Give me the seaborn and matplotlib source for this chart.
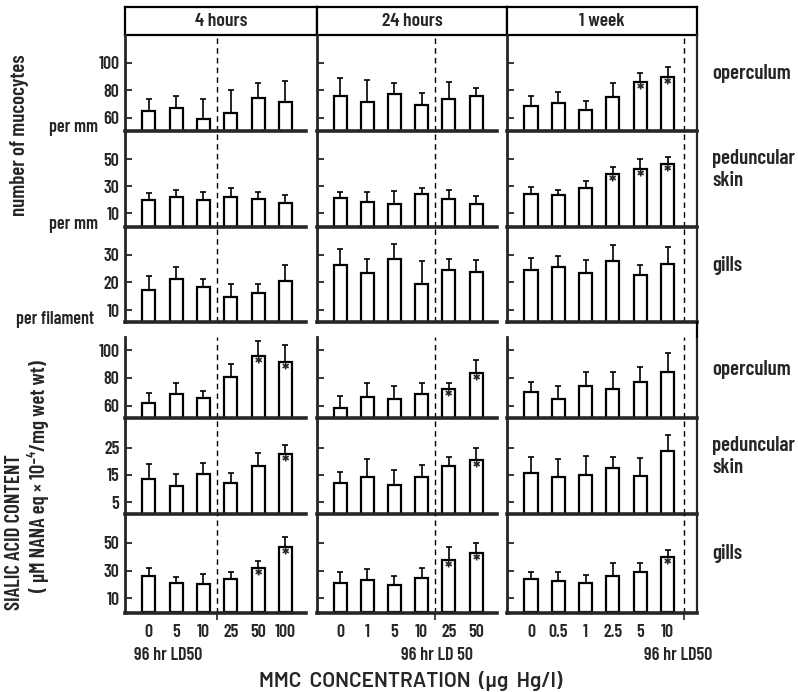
import numpy as np
import matplotlib
matplotlib.use("Agg")
from matplotlib import pyplot as plt
from matplotlib.lines import Line2D
import seaborn as sns

# ---------------- DATA ---------------------------------------
times = ["4 hours", "24 hours", "1 week"]
conc_labels = [["0", "5", "10", "25", "50", "100"],
               ["0", "1", "5", "10", "25", "50"],
               ["0", "0.5", "1", "2.5", "5", "10"]]
ld50_pos = [2.5, 3.5, 5.6]

# mucocytes, operculum (per mm)
muc_oper_mean = [[64.8, 66.8, 59.3, 63.6, 74.5, 71.4],
                 [75.8, 71.4, 77.5, 69.2, 73.8, 75.8],
                 [68.5, 70.9, 66.0, 75.3, 85.9, 89.6]]
muc_oper_sd = [[9.2, 9.4, 14.5, 16.3, 11.0, 15.3],
               [13.3, 15.8, 8.0, 8.5, 12.4, 6.0],
               [7.3, 8.0, 6.1, 10.2, 6.3, 7.2]]
muc_oper_star = [[], [], [4, 5]]

# mucocytes, peduncular skin (per mm)
muc_ped_mean = [[20.3, 22.3, 20.3, 22.3, 20.6, 17.4],
                [21.5, 18.6, 16.9, 24.7, 20.6, 16.9],
                [24.7, 23.5, 28.9, 39.4, 43.1, 46.8]]
muc_ped_sd = [[4.9, 4.9, 5.7, 6.8, 5.4, 6.1],
              [4.5, 7.4, 9.5, 4.2, 6.6, 5.9],
              [4.9, 4.2, 4.9, 5.0, 6.9, 4.9]]
muc_ped_star = [[], [], [3, 4, 5]]

# mucocytes, gills (per filament)
muc_gill_mean = [[17.2, 21.4, 18.4, 14.8, 16.0, 20.4],
                 [26.2, 23.4, 28.6, 19.6, 24.6, 23.8],
                 [24.4, 25.6, 23.4, 27.6, 22.8, 26.8]]
muc_gill_sd = [[5.0, 4.2, 3.0, 4.8, 3.3, 5.8],
               [6.0, 5.2, 5.4, 8.0, 4.0, 4.4],
               [4.4, 3.8, 4.8, 5.8, 3.6, 6.0]]
muc_gill_star = [[], [], []]

# sialic acid, operculum
sia_oper_mean = [[61.9, 68.6, 65.5, 81.0, 96.0, 91.7],
                 [58.3, 66.7, 64.8, 68.3, 72.1, 83.3],
                 [69.8, 64.8, 74.3, 72.4, 77.4, 84.0]]
sia_oper_sd = [[7.6, 7.6, 5.2, 8.8, 10.4, 11.9],
               [8.8, 9.5, 9.5, 7.9, 4.1, 9.6],
               [7.1, 9.7, 10.2, 11.6, 10.7, 14.1]]
sia_oper_star = [[4, 5], [4, 5], []]

# sialic acid, peduncular skin
sia_ped_mean = [[13.3, 11.0, 15.2, 11.9, 18.4, 22.7],
                [11.9, 14.3, 11.3, 14.1, 18.4, 20.5],
                [15.6, 14.3, 14.9, 17.6, 14.6, 23.8]]
sia_ped_sd = [[5.7, 4.3, 4.0, 3.9, 4.5, 3.3],
              [4.3, 6.4, 5.5, 4.5, 3.3, 4.3],
              [6.1, 6.4, 7.0, 3.8, 6.5, 5.9]]
sia_ped_star = [[5], [5], []]

# sialic acid, gills
sia_gill_mean = [[26.0, 21.3, 20.1, 23.7, 31.6, 47.1],
                 [20.8, 23.2, 19.6, 24.4, 37.5, 42.8],
                 [23.9, 22.7, 21.3, 26.3, 28.7, 39.5]]
sia_gill_sd = [[5.6, 4.3, 7.1, 5.5, 5.5, 7.2],
               [8.4, 7.9, 6.4, 7.2, 9.6, 6.7],
               [4.8, 6.0, 5.5, 9.3, 6.9, 5.2]]
sia_gill_star = [[4, 5], [4, 5], [5]]

rows = [
    (muc_oper_mean, muc_oper_sd, muc_oper_star, (50.5, 120), [60, 80, 100], "operculum"),
    (muc_ped_mean, muc_ped_sd, muc_ped_star, (0, 71), [10, 30, 50], "peduncular\nskin"),
    (muc_gill_mean, muc_gill_sd, muc_gill_star, (5.7, 40), [10, 20, 30], "gills"),
    (sia_oper_mean, sia_oper_sd, sia_oper_star, (51.4, 109.3), [60, 80, 100], "operculum"),
    (sia_ped_mean, sia_ped_sd, sia_ped_star, (0.6, 35.9), [5, 15, 25], "peduncular\nskin"),
    (sia_gill_mean, sia_gill_sd, sia_gill_star, (-0.5, 70.6), [10, 30, 50], "gills"),
]

# ---------------- STYLE / LAYOUT ---------------------------------------
sns.set_style("ticks")
plt.rcParams['font.family'] = ['Barlow Condensed', 'Roboto Condensed', 'DejaVu Sans']
plt.rcParams['font.weight'] = 600
W, H = 798, 692

def box(l, t, r, b):
    return [l / W, 1 - b / H, (r - l) / W, (b - t) / H]

def ftext(x, y, s, **kw):
    fig.text(x / W, 1 - y / H, s, **kw)

col_x = [(125, 306), (317, 497), (507, 697)]
col_xlim = [(-0.87, 5.75), (-0.85, 5.77), (-0.88, 6.08)]
head_x = [(125, 317), (317, 507), (507, 697)]
row_y = [(35, 131), (131, 227), (227, 322), (337, 418), (418, 514), (514, 613)]

fig = plt.figure(figsize=(W / 100, H / 100), dpi=100)

# header boxes
for j, name in enumerate(times):
    hx = fig.add_axes(box(head_x[j][0], 7, head_x[j][1], 35))
    hx.set_xticks([])
    hx.set_yticks([])
    for s in hx.spines.values():
        s.set_linewidth(1.6)
        s.set_color("black")
    hx.text(0.5, 0.5, name, ha="center", va="center", fontsize=14, transform=hx.transAxes)

# panels
for i, (means, sds, stars, ylim, yticks, tissue) in enumerate(rows):
    for j in range(3):
        ax = fig.add_axes(box(col_x[j][0], row_y[i][0], col_x[j][1], row_y[i][1]))
        ax.patch.set_alpha(0)
        sns.barplot(x=list(range(6)), y=means[j], color="white", saturation=1,
                    edgecolor="black", linewidth=1.6, width=0.48, errorbar=None, ax=ax)
        ax.errorbar(range(6), means[j], yerr=[np.zeros(6), sds[j]], fmt="none",
                    ecolor="black", elinewidth=1.2, capsize=2.2, capthick=1.2)
        ax.axvline(ld50_pos[j], color="black", lw=1, ls=(0, (4, 3)))
        for k in stars[j]:
            ax.annotate("*", (k, means[j][k]), xytext=(0, -8), textcoords="offset points",
                        ha="center", va="center", fontsize=15, fontweight="bold")
        sns.despine(ax=ax, top=True, right=(j < 2))
        ax.spines["left"].set_linewidth(2)
        ax.spines["bottom"].set_linewidth(2.6)
        ax.spines["right"].set_linewidth(1.6)
        ax.set_ylim(ylim)
        ax.set_xlim(col_xlim[j])
        ax.set_yticks(yticks)
        ax.tick_params(axis="y", direction="in", length=5, width=1.3, labelsize=13,
                       pad=4, labelleft=(j == 0))
        ax.set_xlabel("")
        ax.set_ylabel("")
        if i == 5:
            ax.set_xticks(range(6), conc_labels[j])
            ax.tick_params(axis="x", which="major", length=0, pad=8, labelsize=13)
            ax.set_xticks([ld50_pos[j]], minor=True)
            ax.tick_params(axis="x", which="minor", direction="out", length=5, width=1.2)
        else:
            ax.set_xticks([])
        if j == 2:
            ax.text(1.08, 0.6, tissue, transform=ax.transAxes, ha="left", va="center",
                    fontsize=15, linespacing=1.2)

# right frame runs through the gap between the two blocks
fig.add_artist(Line2D([697 / W, 697 / W], [1 - 322 / H, 1 - 337 / H], color="black", lw=1.6))

# left labels
ftext(20, 135, "number of mucocytes", rotation=90, ha="center", va="center", fontsize=15)
ftext(98, 128, "per mm", ha="right", va="center", fontsize=13)
ftext(98, 224, "per mm", ha="right", va="center", fontsize=13)
ftext(94, 319, "per filament", ha="right", va="center", fontsize=13)
ftext(15, 532, "SIALIC ACID CONTENT", rotation=90, ha="center", va="center", fontsize=15)
ftext(38, 476, "( \u03bcM NANA eq \u00d7 10\u207b\u2074/mg wet wt)", rotation=90,
      ha="center", va="center", fontsize=15)

# bottom labels
ftext(168, 655, "96 hr LD50", ha="center", va="center", fontsize=13)
ftext(437, 655, "96 hr LD 50", ha="center", va="center", fontsize=13)
ftext(678, 655, "96 hr LD50", ha="center", va="center", fontsize=13)
ftext(411, 681, "MMC  CONCENTRATION  (\u03bcg  Hg/l)", ha="center", va="center",
      fontsize=15, family=['Barlow', 'DejaVu Sans'])

fig.savefig("out.png", dpi=100)
